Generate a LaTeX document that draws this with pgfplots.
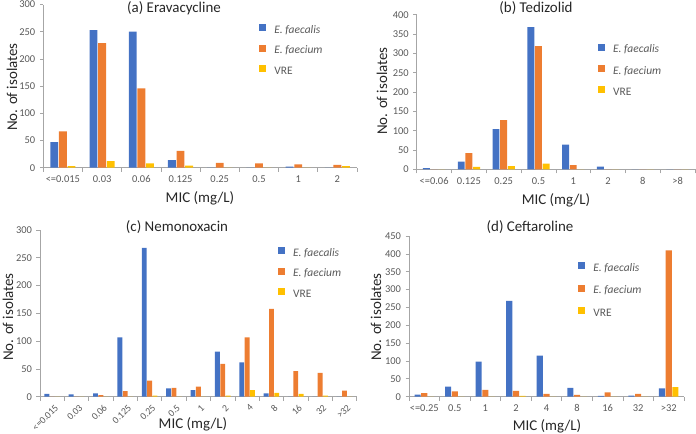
\documentclass[border=0pt]{standalone}
\usepackage{fontspec}
\setmainfont{Carlito}
\usepackage{pgfplots}
\usepackage{pgfplotstable}
\pgfplotsset{compat=1.18}
\definecolor{cfs}{HTML}{4472C4}
\definecolor{cfm}{HTML}{ED7D31}
\definecolor{cvre}{HTML}{FFC000}
\definecolor{axgray}{HTML}{A6A6A6}
\definecolor{txt}{HTML}{595959}

% (a) Eravacycline
\pgfplotstableread{
x fs fm vre
0 47 67 3
1 253 229 12
2 250 146 8
3 14 31 4
4 0 9 0
5 0 8 0
6 2 6 0
7 0 5 3
}\tabA
% (b) Tedizolid
\pgfplotstableread{
x fs fm vre
0 3 0 0
1 20 42 6
2 104 127 8
3 368 319 15
4 64 11 0
5 7 0 0
6 0 0 0
7 0 0 0
}\tabB
% (c) Nemonoxacin
\pgfplotstableread{
x fs fm vre
0 5 0 0
1 4 0 0
2 6 3 0
3 107 10 0
4 268 29 2
5 15 16 0
6 12 18 0
7 81 59 2
8 62 107 12
9 6 158 7
10 0 46 5
11 0 43 2
12 0 11 0
}\tabC
% (d) Ceftaroline
\pgfplotstableread{
x fs fm vre
0 6 10 0
1 28 15 0
2 98 19 0
3 268 16 2
4 115 8 0
5 25 5 0
6 2 12 0
7 3 8 0
8 23 410 27
}\tabD

\pgfplotsset{
  micaxis/.style={
    scale only axis,
    anchor=south west,
    axis lines*=left,
    axis line style={axgray, line width=0.7bp},
    ymin=0, xmin=-0.5,
    ytick distance=50,
    tick align=outside,
    major x tick style={draw=none},
    minor x tick style={axgray, line width=0.7bp},
    ytick style={axgray, line width=0.7bp},
    major tick length=3.5bp, minor tick length=4bp,
    tick label style={font=\fontsize{10.5}{12}\selectfont, text=txt},
    /pgf/number format/assume math mode=true,
    yticklabel style={xshift=-1bp},
    xticklabel style={yshift=-1bp},
    legend cell align=left,
    legend style={draw=none, fill=none, font=\fontsize{11.5}{13}\selectfont\color{txt},
      anchor=north west, inner sep=0pt, column sep=8bp,
      nodes={inner sep=0pt, text height=8bp, text depth=2.5bp}},
    clip=false,
  },
  bars/.style={ybar, bar width=0.2, draw=none, fill=#1,
    legend image code/.code={\fill[#1] (0bp,-0.5bp) rectangle (7bp,6.5bp);}},
}
\tikzset{lbl/.style={font=\fontsize{15}{17}\selectfont, text=black!85}}

\begin{document}
\begin{tikzpicture}
\path[use as bounding box] (0,0) rectangle (696bp,-434bp);

% (a)
\begin{axis}[micaxis, at={(43.3bp,-167.7bp)}, width=313.7bp, height=163.2bp,
  xmax=7.5, ymax=300,
  xtick={0,...,7}, minor xtick={-0.5,0.5,...,7.5},
  xticklabels={{<=0.015},0.03,0.06,0.125,0.25,0.5,1,2},
  legend style={at={(0.688,0.88)}, row sep=8.5bp}]
\addplot[bars=cfs, bar shift=-0.22] table[x=x, y=fs] {\tabA};
\addlegendentry{\textit{E. faecalis}}
\addplot[bars=cfm, bar shift=0] table[x=x, y=fm] {\tabA};
\addlegendentry{\textit{E. faecium}}
\addplot[bars=cvre, bar shift=0.22] table[x=x, y=vre] {\tabA};
\addlegendentry{VRE}
\end{axis}

% (b)
\begin{axis}[micaxis, at={(416.7bp,-169.3bp)}, width=278.3bp, height=154.6bp,
  xmax=7.5, ymax=400,
  xtick={0,...,7}, minor xtick={-0.5,0.5,...,7.5},
  xticklabels={{<=0.06},0.125,0.25,0.5,1,2,8,{>8}},
  legend style={at={(0.651,0.815)}, row sep=9.5bp}]
\addplot[bars=cfs, bar shift=-0.22] table[x=x, y=fs] {\tabB};
\addlegendentry{\textit{E. faecalis}}
\addplot[bars=cfm, bar shift=0] table[x=x, y=fm] {\tabB};
\addlegendentry{\textit{E. faecium}}
\addplot[bars=cvre, bar shift=0.22] table[x=x, y=vre] {\tabB};
\addlegendentry{VRE}
\end{axis}

% (c)
\begin{axis}[micaxis, at={(40bp,-396.7bp)}, width=316.7bp, height=166.7bp,
  xmax=12.5, ymax=300,
  xtick={0,...,12}, minor xtick={-0.5,0.5,...,12.5},
  xticklabels={{<=0.015},0.03,0.06,0.125,0.25,0.5,1,2,4,8,16,32,{>32}},
  xticklabel style={rotate=45, anchor=north east, xshift=3bp,
    font=\fontsize{9.8}{11}\selectfont},
  legend style={at={(0.751,0.9)}, row sep=9bp}]
\addplot[bars=cfs, bar shift=-0.22] table[x=x, y=fs] {\tabC};
\addlegendentry{\textit{E. faecalis}}
\addplot[bars=cfm, bar shift=0] table[x=x, y=fm] {\tabC};
\addlegendentry{\textit{E. faecium}}
\addplot[bars=cvre, bar shift=0.22] table[x=x, y=vre] {\tabC};
\addlegendentry{VRE}
\end{axis}

% (d)
\begin{axis}[micaxis, at={(409bp,-396.7bp)}, width=275bp, height=160.7bp,
  xmax=8.5, ymax=450,
  xtick={0,...,8}, minor xtick={-0.5,0.5,...,8.5},
  xticklabels={{<=0.25},0.5,1,2,4,8,16,32,{>32}},
  legend style={at={(0.615,0.84)}, row sep=11bp}]
\addplot[bars=cfs, bar shift=-0.22] table[x=x, y=fs] {\tabD};
\addlegendentry{\textit{E. faecalis}}
\addplot[bars=cfm, bar shift=0] table[x=x, y=fm] {\tabD};
\addlegendentry{\textit{E. faecium}}
\addplot[bars=cvre, bar shift=0.22] table[x=x, y=vre] {\tabD};
\addlegendentry{VRE}
\end{axis}

% titles and axis labels
\node[lbl] at (174bp,-8bp) {(a) Eravacycline};
\node[lbl] at (536bp,-8bp) {(b) Tedizolid};
\node[lbl] at (177bp,-227bp) {(c) Nemonoxacin};
\node[lbl] at (530bp,-227bp) {(d) Ceftaroline};
\node[lbl] at (200bp,-198bp) {MIC (mg/L)};
\node[lbl] at (556bp,-200bp) {MIC (mg/L)};
\node[lbl] at (193bp,-424bp) {MIC (mg/L)};
\node[lbl] at (547bp,-426bp) {MIC (mg/L)};
\node[lbl, rotate=90] at (12bp,-87bp) {No. of isolates};
\node[lbl, rotate=90] at (382bp,-91bp) {No. of isolates};
\node[lbl, rotate=90] at (8bp,-317bp) {No. of isolates};
\node[lbl, rotate=90] at (376bp,-317bp) {No. of isolates};
\end{tikzpicture}
\end{document}
